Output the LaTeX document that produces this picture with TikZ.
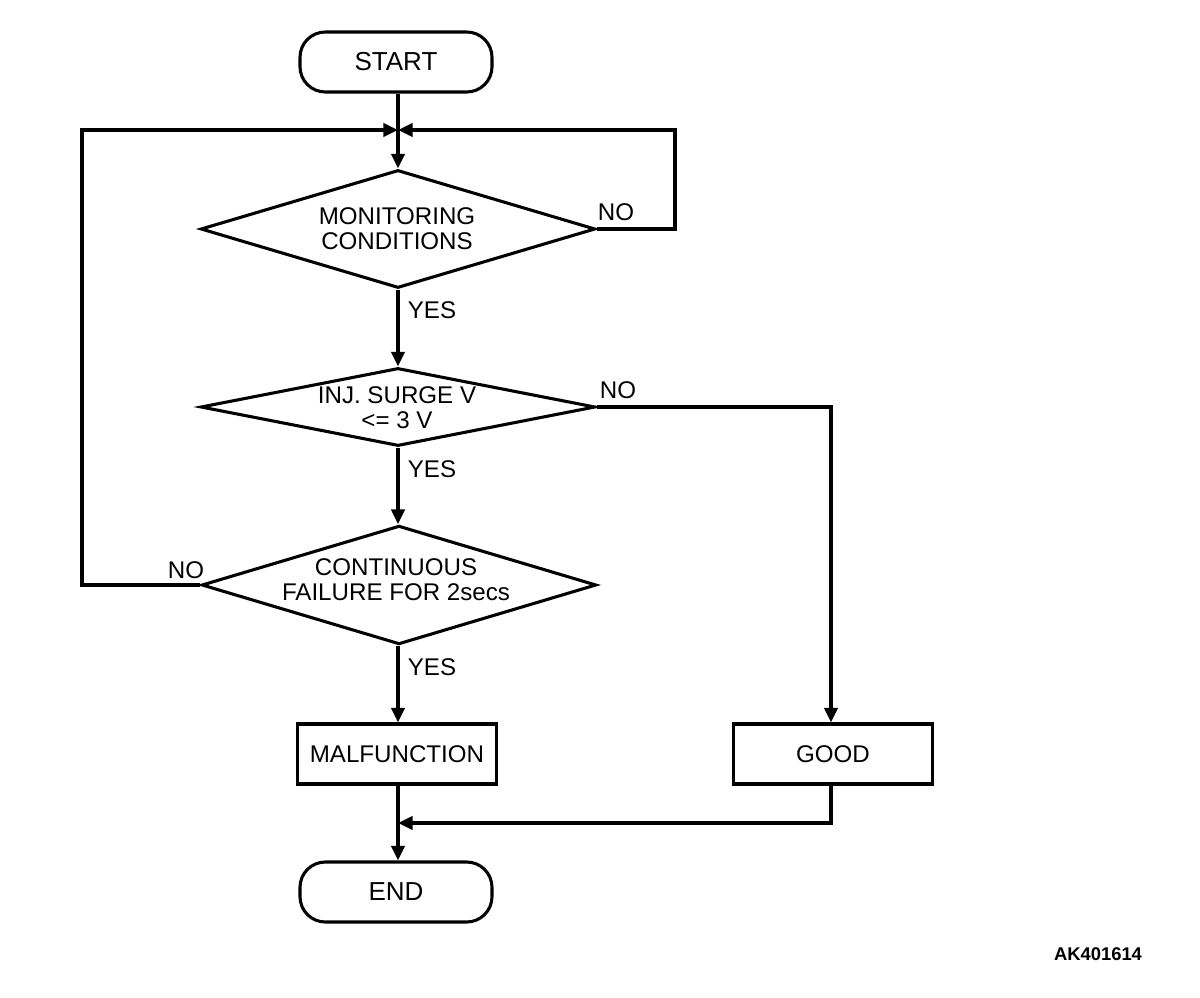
\documentclass[tikz,border=0pt]{standalone}
\usepackage{fontspec}
\setmainfont{Liberation Sans}
\usetikzlibrary{shapes.geometric,arrows.meta}
\begin{document}
\begin{tikzpicture}[x=0.75pt,y=-0.75pt,
  line width=2.3pt,
  font=\fontsize{18.1}{18.9}\selectfont,
  term/.style={draw, line width=2.3pt, rounded corners=19pt, minimum width=144pt, minimum height=45pt, inner sep=0pt, font=\fontsize{19.5}{21}\selectfont},
  dia/.style={draw, line width=2.3pt, diamond, inner sep=0pt, minimum width=296pt},
  procbox/.style={draw, line width=2.3pt, rectangle, minimum width=149pt, minimum height=45pt, inner sep=0pt},
  txt/.style={align=center, inner sep=0pt},
  arr/.style={line width=2.3pt, -{Triangle[length=11pt,width=10pt]}},
  lbl/.style={inner sep=0pt}
]
\useasboundingbox (0,0) rectangle (1200,998);

\node[term] (start) at (396,62) {\raisebox{-1.5pt}{START}};
\node[dia, minimum height=88.5pt] (d1) at (398,229) {};
\node[txt] (t1) at (397,229) {MONITORING\\CONDITIONS};
\node[dia, minimum height=58.5pt] (d2) at (398,407) {};
\node[txt] (t2) at (397,408) {INJ. SURGE V\\<= 3 V};
\node[dia, minimum height=89pt] (d3) at (399,585) {};
\node[txt] (t3) at (396,580) {CONTINUOUS\\FAILURE FOR 2secs};
\node[procbox] (mal) at (397,754) {MALFUNCTION};
\node[procbox] (good) at (833,754) {GOOD};
\node[term] (endn) at (396,892) {\raisebox{-1.5pt}{END}};

\coordinate (j) at (398,130);
\coordinate (rr) at (675,130);
\coordinate (ll) at (82,130);
\coordinate (m) at (398,823);
\coordinate (gx) at (831,0);

\draw[arr] (start.south -| j) -- (d1.north);
\draw[arr] (d1.east) -| (rr) -- (j);
\draw[arr] (d3.west) -| (ll) -- (j);
\draw[arr] (d1.south) -- (d2.north);
\draw[arr] (d2.south) -- (d3.north -| d2.south);
\draw[arr] (d3.south -| j) -- (mal.north -| j);
\draw[arr] (d2.east) -| (good.north -| gx);
\draw[arr] (mal.south -| m) -- (endn.north -| m);
\draw[arr] (good.south -| gx) |- (m);

\node[lbl] (n1) at (616,212) {NO};
\node[lbl] (n2) at (618,390) {NO};
\node[lbl] (n3) at (186,570) {NO};
\node[lbl] (y1) at (432,310) {YES};
\node[lbl] (y2) at (432,469) {YES};
\node[lbl] (y3) at (432,667) {YES};

\node[lbl, font=\fontsize{13.8}{16}\selectfont\bfseries] (code) at (1098,954) {AK401614};
\end{tikzpicture}
\end{document}
